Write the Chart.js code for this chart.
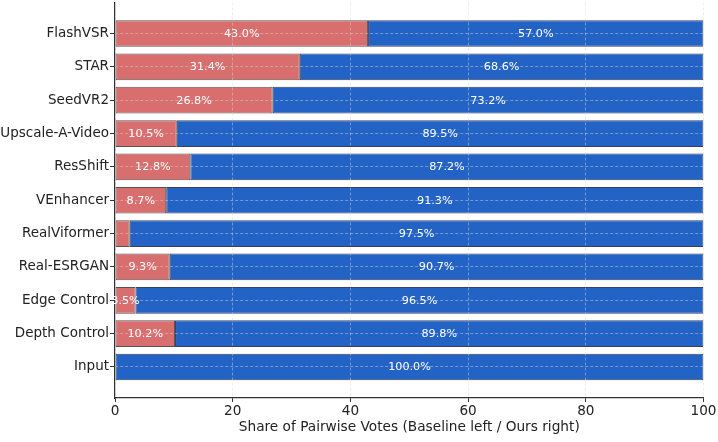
<!DOCTYPE html>
<html><head><meta charset="utf-8">
<script src="https://cdn.jsdelivr.net/npm/chart.js@4/dist/chart.umd.min.js"></script>
<style>html,body{margin:0;padding:0;background:#fff}#wrap{width:718px;height:442px}</style>
</head><body><div id="wrap"><canvas id="c" width="718" height="442"></canvas></div>
<script>
const categories = ["FlashVSR","STAR","SeedVR2","Upscale-A-Video","ResShift","VEnhancer","RealViformer","Real-ESRGAN","Edge Control","Depth Control","Input"];
const baselineShare = [43.0,31.4,26.8,10.5,12.8,8.7,2.5,9.3,3.5,10.2,0.0];
const oursShare = [57.0,68.6,73.2,89.5,87.2,91.3,97.5,90.7,96.5,89.8,100.0];
const xTicks = [0,20,40,60,80,100];
const xTitle = "Share of Pairwise Votes (Baseline left / Ours right)";

const FONT = "'DejaVu Sans', sans-serif";
const gridColor = 'rgba(215,215,215,0.5)';

const labelPlugin = {
  id: 'segLabels',
  afterDraw(chart) {
    const ctx = chart.ctx;
    const area = chart.chartArea;
    ctx.save();
    ctx.beginPath();
    ctx.rect(area.left - 1, 0, chart.width - area.left + 1, chart.height);
    ctx.clip();
    ctx.font = "11.2px " + FONT;
    ctx.fillStyle = '#ffffff';
    ctx.textAlign = 'center';
    ctx.textBaseline = 'middle';
    chart.data.datasets.forEach((ds, di) => {
      const meta = chart.getDatasetMeta(di);
      meta.data.forEach((el, i) => {
        const v = ds.data[i].x;
        if (v < 3) return;
        const cx = (el.x + el.base) / 2;
        ctx.fillText(v.toFixed(1) + '%', cx, el.y + 0.5);
      });
    });
    ctx.restore();
  }
};

new Chart(document.getElementById('c'), {
  type: 'bar',
  data: {
    datasets: [
      {
        label: 'Baseline',
        data: baselineShare.map((v, i) => ({x: v, y: i})),
        backgroundColor: '#d86f6e',
        borderColor: 'rgba(40,40,40,0.8)',
        borderWidth: 1,
        borderSkipped: false,
        barPercentage: 0.8,
        categoryPercentage: 1.0
      },
      {
        label: 'Ours',
        data: oursShare.map((v, i) => ({x: v, y: i})),
        backgroundColor: '#2363c6',
        borderColor: 'rgba(20,30,70,0.85)',
        borderWidth: 1,
        borderSkipped: false,
        barPercentage: 0.8,
        categoryPercentage: 1.0
      }
    ]
  },
  options: {
    indexAxis: 'y',
    responsive: false,
    animation: false,
    devicePixelRatio: 1,
    layout: { padding: { top: 2.5, right: 14.5, left: 0, bottom: 0 } },
    plugins: { legend: { display: false }, tooltip: { enabled: false } },
    scales: {
      x: {
        type: 'linear',
        stacked: true,
        min: 0, max: 100,
        offset: false,
        afterBuildTicks(s) { s.ticks = xTicks.map(v => ({value: v})); },
        afterFit(s) { s.height = 44; },
        grid: { offset: false, color: gridColor, lineWidth: 0.9, z: 1, drawTicks: true, tickLength: 4, tickColor: '#333', tickWidth: 1 },
        border: { display: true, color: '#333', width: 1.2, dash: [3, 2], z: 2 },
        ticks: { color: '#222', font: { family: FONT, size: 13.6 }, padding: 1, maxRotation: 0, autoSkip: false },
        title: { display: true, text: xTitle, color: '#222', font: { family: FONT, size: 13.7 }, padding: { top: 2, bottom: 6 } }
      },
      y: {
        type: 'linear',
        stacked: true,
        reverse: true,
        offset: false,
        min: -0.93, max: 10.93,
        afterBuildTicks(s) { s.ticks = categories.map((c, i) => ({value: i})); },
        afterFit(s) { s.width = 115; s.paddingTop = 0; s.paddingBottom = 0; },
        grid: { offset: false, color: gridColor, lineWidth: 0.9, z: 1, drawTicks: true, tickLength: 5, tickColor: '#333', tickWidth: 1 },
        border: { display: true, color: '#333', width: 1.2, dash: [3, 2], z: 2 },
        ticks: { color: '#222', font: { family: FONT, size: 13.5 }, padding: 1, autoSkip: false,
          callback: (v) => categories[Math.round(v)] }
      }
    }
  },
  plugins: [labelPlugin]
});
</script>
</body></html>
